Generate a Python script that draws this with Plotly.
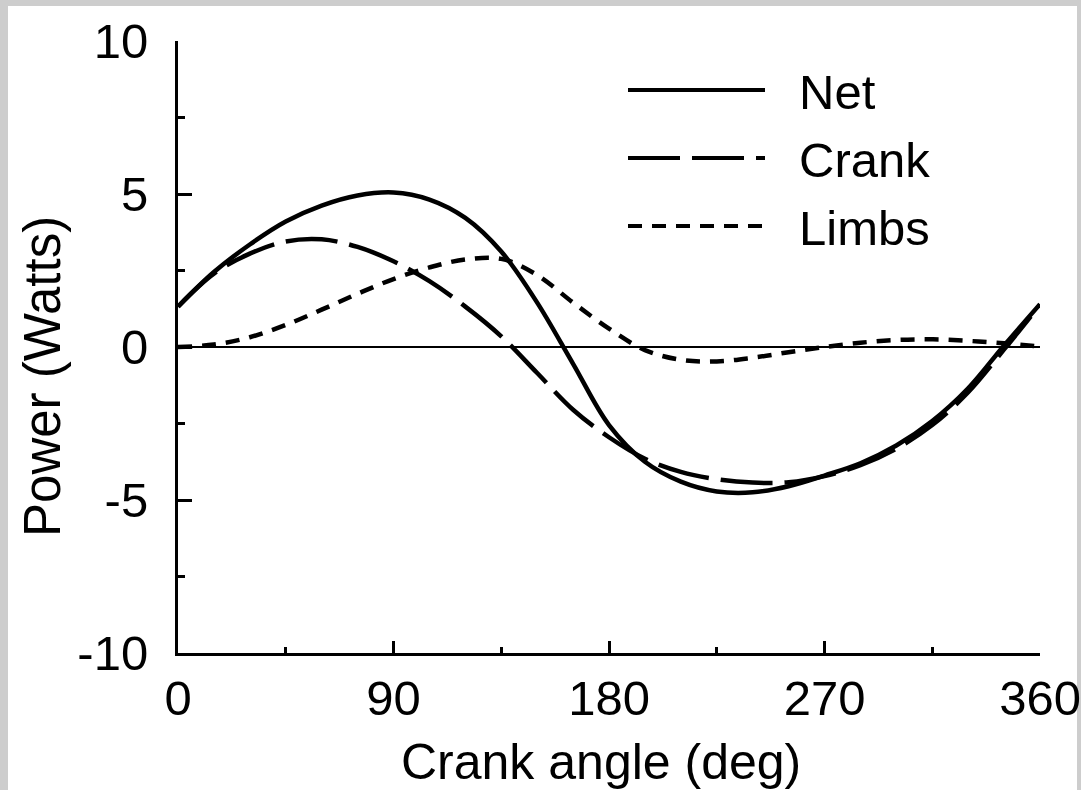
import plotly.graph_objects as go

# ---- data ----
angle = [0, 15, 30, 45, 60, 75, 90, 105, 120, 135, 150, 165, 180,
         195, 210, 225, 240, 255, 270, 285, 300, 315, 330, 345, 360]
net = [1.32, 2.45, 3.35, 4.10, 4.62, 4.95, 5.05, 4.82, 4.22, 3.12, 1.45, -0.55, -2.55,
       -3.75, -4.40, -4.72, -4.75, -4.55, -4.20, -3.80, -3.22, -2.42, -1.35, 0.05, 1.40]
crank = [1.32, 2.40, 3.05, 3.45, 3.52, 3.27, 2.80, 2.15, 1.32, 0.35, -0.85, -2.05, -2.95,
         -3.65, -4.08, -4.32, -4.43, -4.42, -4.22, -3.86, -3.32, -2.55, -1.48, -0.08, 1.38]
limbs = [0.00, 0.08, 0.32, 0.72, 1.22, 1.74, 2.22, 2.60, 2.86, 2.88, 2.35, 1.45, 0.60,
         -0.10, -0.42, -0.47, -0.35, -0.17, 0.00, 0.14, 0.23, 0.25, 0.20, 0.12, 0.01]
series_names = ["Net", "Crank", "Limbs"]
x_ticks = [0, 90, 180, 270, 360]
y_ticks = [-10, -5, 0, 5, 10]
x_title = "Crank angle (deg)"
y_title = "Power (Watts)"

FONT = "Liberation Sans, Arial, sans-serif"
FS = 49
dashes = {"Net": "solid", "Crank": "52px,12px", "Limbs": "14px,10px"}
values = {"Net": net, "Crank": crank, "Limbs": limbs}

fig = go.Figure()
for name in series_names:
    fig.add_trace(go.Scatter(
        x=angle, y=values[name], mode="lines", name=name,
        line=dict(color="black", width=4.5, dash=dashes[name], shape="spline", smoothing=1.0),
        showlegend=False,
    ))

# page frame (gray edge with white sheet)
L, R, T, B = 178, 41, 41, 137
W, H = 1081, 790
pw, ph = W - L - R, H - T - B
def px_x(px):
    return (px - L) / pw
def px_y(py):
    return (H - B - py) / ph

shapes = [dict(type="rect", xref="paper", yref="paper",
               x0=px_x(8), x1=px_x(1077), y0=px_y(795), y1=px_y(6),
               fillcolor="white", line=dict(width=0), layer="below")]
annotations = []
legend_y = [90, 158, 226]
for name, ly in zip(series_names, legend_y):
    shapes.append(dict(type="line", xref="paper", yref="paper",
                       x0=px_x(628), x1=px_x(765), y0=px_y(ly), y1=px_y(ly),
                       line=dict(color="black", width=4, dash=dashes[name])))
    annotations.append(dict(xref="paper", yref="paper", x=px_x(797), y=px_y(ly + 2),
                            text=name, showarrow=False, xanchor="left", yanchor="middle",
                            font=dict(family=FONT, size=FS, color="black")))

# axis titles
annotations.append(dict(xref="paper", yref="paper", x=px_x(601), y=px_y(762),
                        text=x_title, showarrow=False, xanchor="center", yanchor="middle",
                        font=dict(family=FONT, size=50, color="black")))
annotations.append(dict(xref="paper", yref="paper", x=px_x(42), y=px_y(377),
                        text=y_title, showarrow=False, xanchor="center", yanchor="middle",
                        textangle=-90,
                        font=dict(family=FONT, size=51, color="black")))

fig.update_layout(
    width=W, height=H,
    margin=dict(l=L, r=R, t=T, b=B, autoexpand=False),
    paper_bgcolor="#cdcdcd", plot_bgcolor="white",
    font=dict(family=FONT, size=FS, color="black"),
    shapes=shapes, annotations=annotations,
    showlegend=False,
)
fig.update_xaxes(
    range=[0, 360], tickvals=x_ticks, ticktext=[str(v) for v in x_ticks],
    showline=True, linecolor="black", linewidth=3, mirror=False,
    ticks="inside", ticklen=12, tickwidth=3, tickcolor="black",
    minor=dict(tickvals=[45, 135, 225, 315], ticks="inside", ticklen=6, tickwidth=3, tickcolor="black"),
    showgrid=False, zeroline=False, automargin=False,
    ticklabelstandoff=0,
    tickfont=dict(family=FONT, size=FS, color="black"),
)
fig.update_yaxes(
    range=[-10, 10], tickvals=y_ticks, ticktext=[str(v) for v in y_ticks],
    showline=True, linecolor="black", linewidth=3, mirror=False,
    ticks="inside", ticklen=14, tickwidth=3, tickcolor="black",
    minor=dict(tickvals=[-7.5, -2.5, 2.5, 7.5], ticks="inside", ticklen=7, tickwidth=3, tickcolor="black"),
    showgrid=False, zeroline=True, zerolinecolor="black", zerolinewidth=2, automargin=False,
    ticklabelstandoff=17,
    tickfont=dict(family=FONT, size=FS, color="black"),
)

fig.write_html("out.html")
